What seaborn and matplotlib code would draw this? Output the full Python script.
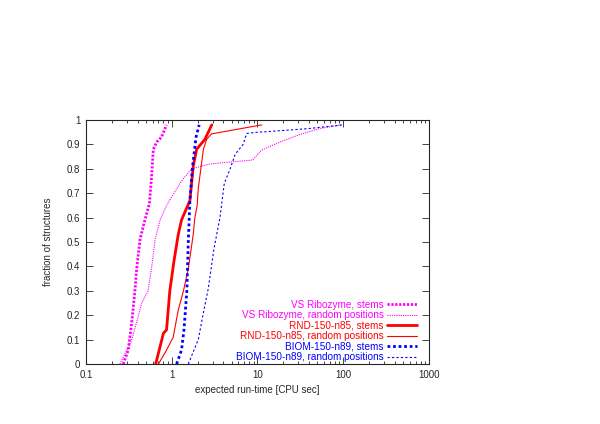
"""
Laufzeitverteilung (CDF) fuer verschiedene Datensaetze, gnuplot-Stil.
"""
import numpy as np
import pandas as pd
import matplotlib
matplotlib.use('Agg')
import matplotlib.pyplot as plt
import seaborn as sns

# Daten: erwartete Laufzeit [CPU sec] und Anteil der Strukturen
vs_stems_x = [0.272, 0.311, 0.341, 0.372, 0.39, 0.427, 0.47, 0.55, 0.58, 0.61, 0.67, 0.76, 0.87]
vs_stems_y = [0.0, 0.057, 0.168, 0.30, 0.39, 0.51, 0.57, 0.66, 0.76, 0.88, 0.91, 0.93, 0.98]

vs_rand_x = [0.249, 0.341, 0.387, 0.447, 0.53, 0.58, 0.64, 0.73, 0.87, 1.30, 1.70, 2.8,
             8.8, 11.2, 18.3, 31.0, 53.0, 95.0]
vs_rand_y = [0.0, 0.098, 0.168, 0.25, 0.30, 0.39, 0.51, 0.59, 0.65, 0.75, 0.80, 0.82,
             0.836, 0.877, 0.91, 0.94, 0.965, 0.98]

rnd_stems_x = [0.65, 0.80, 0.87, 0.95, 1.06, 1.19, 1.30, 1.63, 1.78, 1.95, 2.43, 2.93]
rnd_stems_y = [0.0, 0.126, 0.14, 0.30, 0.42, 0.53, 0.59, 0.67, 0.81, 0.88, 0.92, 0.98]

rnd_rand_x = [0.70, 0.87, 1.04, 1.19, 1.37, 1.56, 1.78, 1.86, 1.98, 2.04, 2.34, 2.55, 2.91, 11.2]
rnd_rand_y = [0.0, 0.057, 0.11, 0.22, 0.30, 0.39, 0.53, 0.60, 0.65, 0.72, 0.88, 0.92, 0.943, 0.98]

biom_stems_x = [1.14, 1.30, 1.39, 1.50, 1.56, 1.60, 1.63, 1.67, 1.75, 1.92, 2.09]
biom_stems_y = [0.0, 0.057, 0.14, 0.30, 0.50, 0.60, 0.67, 0.72, 0.81, 0.93, 0.98]

biom_rand_x = [1.56, 2.04, 2.34, 2.67, 3.1, 3.65, 4.1, 4.8, 5.5, 6.8, 7.5, 10.0, 12.8, 40.0, 99.0]
biom_rand_y = [0.0, 0.10, 0.21, 0.31, 0.47, 0.60, 0.74, 0.80, 0.86, 0.90, 0.945, 0.95, 0.952, 0.965, 0.98]

labels = ['VS Ribozyme, stems', 'VS Ribozyme, random positions',
          'RND-150-n85, stems', 'RND-150-n85, random positions',
          'BIOM-150-n89, stems', 'BIOM-150-n89, random positions']

serien = [(vs_stems_x, vs_stems_y), (vs_rand_x, vs_rand_y),
          (rnd_stems_x, rnd_stems_y), (rnd_rand_x, rnd_rand_y),
          (biom_stems_x, biom_stems_y), (biom_rand_x, biom_rand_y)]

farben = ['#ff00ff', '#ff00ff', '#ff0000', '#ff0000', '#0000ff', '#0000ff']
stile = [(0, (0.8, 0.6)), (0, (1, 1)), '-', '-', (0, (1, 1)), (0, (2, 2))]
breiten = [2.0, 0.8, 2.0, 0.8, 2.0, 0.8]

sns.set_style('ticks')
plt.rcParams['font.family'] = ['Liberation Sans', 'DejaVu Sans']
plt.rcParams['font.size'] = 7
plt.rcParams['xtick.direction'] = 'in'
plt.rcParams['ytick.direction'] = 'in'

fig = plt.figure(figsize=(6, 4.24), dpi=100)
ax = fig.add_axes([0.1433, 0.1415, 0.5717, 0.5755])

for (xs, ys), lab, c, ls, lw in zip(serien, labels, farben, stile, breiten):
    df = pd.DataFrame({'x': xs, 'y': ys})
    sns.lineplot(data=df, x='x', y='y', ax=ax, sort=False, estimator=None,
                 color=c, linestyle=ls, linewidth=lw, label=lab)

ax.set_xscale('log')
ax.set_xlim(0.1, 1000)
ax.set_ylim(0, 1)
ax.set_yticks(np.arange(0, 1.01, 0.1))
ax.set_yticklabels(['0', '0.1', '0.2', '0.3', '0.4', '0.5', '0.6', '0.7', '0.8', '0.9', '1'])
ax.set_xticks([0.1, 1, 10, 100, 1000])
ax.set_xticklabels(['0.1', '1', '10', '100', '1000'])
ax.tick_params(which='both', top=True, right=True, labelsize=7, width=0.6)
ax.tick_params(which='major', length=5, pad=4)
ax.tick_params(which='minor', length=2.5)
for s in ax.spines.values():
    s.set_linewidth(0.8)

ax.set_xlabel('expected run-time [CPU sec]', fontsize=7, labelpad=4)
ax.set_ylabel('fraction of structures', fontsize=7, labelpad=10)

leg = ax.legend(loc='lower right', bbox_to_anchor=(0.972, 0.0), frameon=False,
                markerfirst=False, labelcolor='linecolor', fontsize=7.2,
                handlelength=3.0, handletextpad=0.4, labelspacing=0.05,
                borderpad=0.2, borderaxespad=0)

fig.savefig('out.png', dpi=100)
plt.close()
